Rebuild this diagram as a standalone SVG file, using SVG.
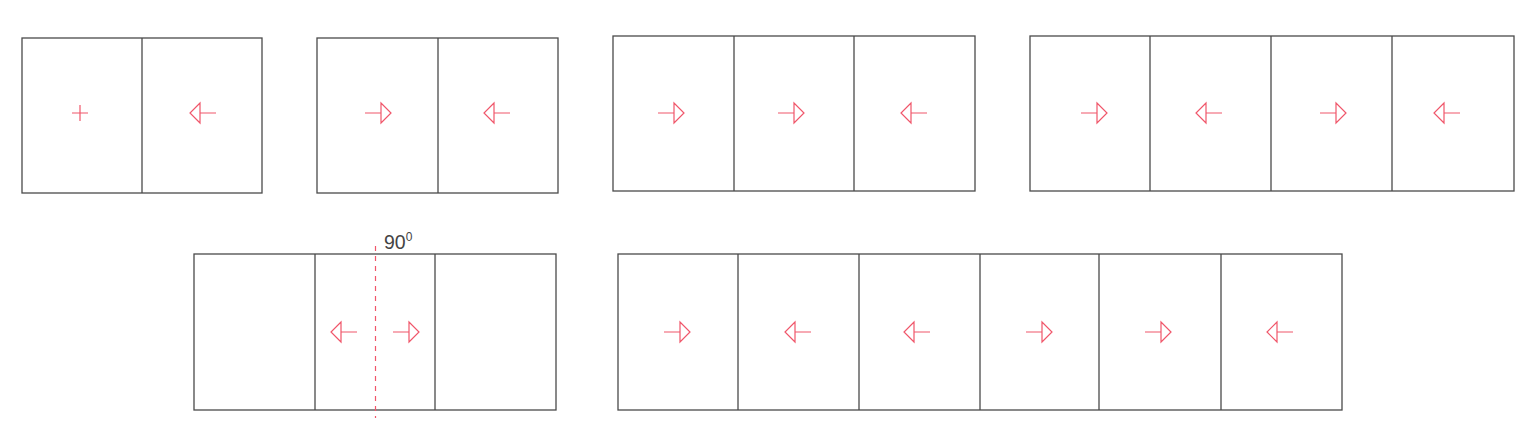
<svg xmlns="http://www.w3.org/2000/svg" width="1536" height="438" viewBox="0 0 1536 438">
<defs>
<style>
.box{fill:#fff;stroke:#4a4a4a;stroke-width:1.3}
.div{stroke:#4a4a4a;stroke-width:1.3}
.ar{fill:none;stroke:#f0566a;stroke-width:1.2}
.dash{stroke:#f0566a;stroke-width:1.2;stroke-dasharray:5 5}
.lbl{font-family:"Liberation Sans",Arial,sans-serif;font-size:19.5px;fill:#444}
</style>
<g id="R"><path class="ar" d="M-13,0H3M3,-10V10L13,0Z"/></g>
<g id="L"><path class="ar" d="M13,0H-3M-3,-10V10L-13,0Z"/></g>
</defs>
<rect width="1536" height="438" fill="#fff"/>

<g id="panel1">
<rect class="box" x="22" y="38" width="240" height="155"/>
<line class="div" x1="142" y1="38" x2="142" y2="193"/>
<path class="ar" d="M72,113H88M80,105V121"/>
<use href="#L" x="203" y="113"/>
</g>

<g id="panel2">
<rect class="box" x="317" y="38" width="241" height="155"/>
<line class="div" x1="438" y1="38" x2="438" y2="193"/>
<use href="#R" x="378" y="113"/>
<use href="#L" x="497" y="113"/>
</g>

<g id="panel3">
<rect class="box" x="613" y="36" width="362" height="155"/>
<line class="div" x1="734" y1="36" x2="734" y2="191"/>
<line class="div" x1="854" y1="36" x2="854" y2="191"/>
<use href="#R" x="671" y="113"/>
<use href="#R" x="791" y="113"/>
<use href="#L" x="914" y="113"/>
</g>

<g id="panel4">
<rect class="box" x="1030" y="36" width="484" height="155"/>
<line class="div" x1="1150" y1="36" x2="1150" y2="191"/>
<line class="div" x1="1271" y1="36" x2="1271" y2="191"/>
<line class="div" x1="1392" y1="36" x2="1392" y2="191"/>
<use href="#R" x="1094" y="113"/>
<use href="#L" x="1209" y="113"/>
<use href="#R" x="1333" y="113"/>
<use href="#L" x="1447" y="113"/>
</g>

<g id="panel5">
<rect class="box" x="194" y="254" width="362" height="156"/>
<line class="div" x1="315" y1="254" x2="315" y2="410"/>
<line class="div" x1="435" y1="254" x2="435" y2="410"/>
<use href="#L" x="344" y="332"/>
<use href="#R" x="406" y="332"/>
<line class="dash" x1="375.5" y1="246" x2="375.5" y2="418"/>
<text class="lbl" x="384" y="249">90<tspan font-size="12" dy="-8">0</tspan></text>
</g>

<g id="panel6">
<rect class="box" x="618" y="254" width="724" height="156"/>
<line class="div" x1="738" y1="254" x2="738" y2="410"/>
<line class="div" x1="859" y1="254" x2="859" y2="410"/>
<line class="div" x1="980" y1="254" x2="980" y2="410"/>
<line class="div" x1="1099" y1="254" x2="1099" y2="410"/>
<line class="div" x1="1221" y1="254" x2="1221" y2="410"/>
<use href="#R" x="677" y="332"/>
<use href="#L" x="798" y="332"/>
<use href="#L" x="917" y="332"/>
<use href="#R" x="1039" y="332"/>
<use href="#R" x="1158" y="332"/>
<use href="#L" x="1280" y="332"/>
</g>
<g id="connectors"/>
</svg>
